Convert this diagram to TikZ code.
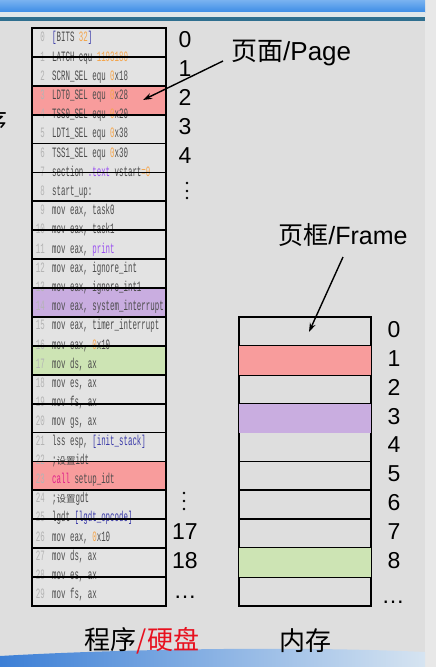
\documentclass[tikz,border=0pt]{standalone}
\usepackage{fontspec}
\setmainfont{Liberation Sans}
\newfontfamily\cjk{Noto Sans CJK SC}
\newfontfamily\codefont[FakeStretch=0.52]{Liberation Mono}
\newfontfamily\codecjk{Noto Sans CJK SC}
\usetikzlibrary{arrows.meta}
\definecolor{bgc}{HTML}{DEDEDE}
\definecolor{panelc}{HTML}{E3E3E3}
\definecolor{stripc}{HTML}{E8E8E8}
\definecolor{lightband}{HTML}{DFE6EA}
\definecolor{topblue}{HTML}{3D8DE6}
\definecolor{toplight}{HTML}{79B2F0}
\definecolor{tealc}{HTML}{2F6F8F}
\definecolor{wavedark}{HTML}{3C7FD6}
\definecolor{wavelight}{HTML}{D6E4F1}
\definecolor{redc}{HTML}{F89C9C}
\definecolor{purc}{HTML}{C9ADE0}
\definecolor{grnc}{HTML}{CDE4B4}
\definecolor{codegray}{HTML}{4C4C4C}
\definecolor{numgray}{HTML}{B4B4B4}
\definecolor{cnum}{HTML}{F4A64E}
\definecolor{cpur}{HTML}{9A50F0}
\definecolor{cbrk}{HTML}{3A3AA8}
\definecolor{ckey}{HTML}{E0208A}
\definecolor{labred}{HTML}{E8101E}
\newcommand\cN[1]{\textcolor{cnum}{#1}}
\newcommand\cP[1]{\textcolor{cpur}{#1}}
\newcommand\cB[1]{\textcolor{cbrk}{#1}}
\newcommand\cK[1]{\textcolor{ckey}{#1}}
\newcommand\zh[1]{{\codecjk\fontsize{9.5}{9.5}\selectfont #1}}
\begin{document}
\begin{tikzpicture}[x=1pt,y=-1pt,
  codeline/.style={anchor=base west,inner sep=0pt,text=codegray,font=\codefont\fontsize{14.3}{14.3}\selectfont},
  lnum/.style={anchor=base east,inner sep=0pt,text=numgray,font=\codefont\fontsize{14.3}{14.3}\selectfont},
  idx/.style={inner sep=0pt,font=\fontsize{23}{23}\selectfont},
  cell/.style={draw=black,line width=1.8pt,minimum width=134pt,minimum height=28.9pt,anchor=north west,inner sep=0pt},
  mcell/.style={draw=black,line width=1.8pt,minimum width=132pt,minimum height=28.9pt,anchor=north west,inner sep=0pt},
  hl/.style={fill=#1,minimum width=134pt,minimum height=28.9pt,anchor=north west,inner sep=0pt},
  lab/.style={inner sep=0pt,font=\fontsize{25}{25}\selectfont},
  arr/.style={line width=1.4pt,-{Stealth[length=9pt,width=6pt]}}]
\useasboundingbox (0,0) rectangle (436,667);
% background
\fill[bgc] (0,0) rectangle (436,667);
\fill[stripc] (425,0) rectangle (436,667);
\shade[top color=toplight,bottom color=topblue] (0,0) rectangle (425,12);
\fill[lightband] (0,12) rectangle (425,17);
\fill[tealc] (0,17) rectangle (425,21);
\shade[left color=wavedark,right color=wavelight] (0,667) -- (0,656) .. controls (120,649) and (300,646) .. (425,652) -- (425,667) -- cycle;
% cut-off character at left edge
\node[inner sep=0pt,font=\cjk\fontsize{26}{26}\selectfont] (cut) at (-6,122) {序};
% code panel
\fill[panelc] (31,27) rectangle (165,605);
\node[hl=redc] (h2) at (31,{27+28.9*2}) {};
\node[hl=purc] (h9) at (31,{27+28.9*9}) {};
\node[hl=grnc] (h11) at (31,{27+28.9*11}) {};
\node[hl=redc] (h15) at (31,{27+28.9*15}) {};
% line numbers
\foreach \n in {0,...,29} \node[lnum] (n\n) at (45,{41.8+19.2*\n}) {\n};
% code
\node[codeline] (c0) at (52,{41.8+19.2*0}) {\cB{[}BITS \cN{32}\cB{]}};
\node[codeline] (c1) at (52,{41.8+19.2*1}) {LATCH equ \cN{1193180}};
\node[codeline] (c2) at (52,{41.8+19.2*2}) {SCRN\_SEL equ \cN{0}x18};
\node[codeline] (c3) at (52,{41.8+19.2*3}) {LDT0\_SEL equ \cN{0}x28};
\node[codeline] (c4) at (52,{41.8+19.2*4}) {TSS0\_SEL equ \cN{0}x20};
\node[codeline] (c5) at (52,{41.8+19.2*5}) {LDT1\_SEL equ \cN{0}x38};
\node[codeline] (c6) at (52,{41.8+19.2*6}) {TSS1\_SEL equ \cN{0}x30};
\node[codeline] (c7) at (52,{41.8+19.2*7}) {section \cP{.text} vstart\cN{=0}};
\node[codeline] (c8) at (52,{41.8+19.2*8}) {start\_up:};
\node[codeline] (c9) at (52,{41.8+19.2*9}) {mov eax, task0};
\node[codeline] (c10) at (52,{41.8+19.2*10}) {mov eax, task1};
\node[codeline] (c11) at (52,{41.8+19.2*11}) {mov eax, \cP{print}};
\node[codeline] (c12) at (52,{41.8+19.2*12}) {mov eax, ignore\_int};
\node[codeline] (c13) at (52,{41.8+19.2*13}) {mov eax, ignore\_int1};
\node[codeline] (c14) at (52,{41.8+19.2*14}) {mov eax, system\_interrupt};
\node[codeline] (c15) at (52,{41.8+19.2*15}) {mov eax, timer\_interrupt};
\node[codeline] (c16) at (52,{41.8+19.2*16}) {mov eax, \cN{0}x10};
\node[codeline] (c17) at (52,{41.8+19.2*17}) {mov ds, ax};
\node[codeline] (c18) at (52,{41.8+19.2*18}) {mov es, ax};
\node[codeline] (c19) at (52,{41.8+19.2*19}) {mov fs, ax};
\node[codeline] (c20) at (52,{41.8+19.2*20}) {mov gs, ax};
\node[codeline] (c21) at (52,{41.8+19.2*21}) {lss esp, \cB{[init\_stack]}};
\node[codeline] (c22) at (52,{41.8+19.2*22}) {;\zh{设置}idt};
\node[codeline] (c23) at (52,{41.8+19.2*23}) {\cK{call} setup\_idt};
\node[codeline] (c24) at (52,{41.8+19.2*24}) {;\zh{设置}gdt};
\node[codeline] (c25) at (52,{41.8+19.2*25}) {lgdt \cB{[lgdt\_opcode]}};
\node[codeline] (c26) at (52,{41.8+19.2*26}) {mov eax, \cN{0}x10};
\node[codeline] (c27) at (52,{41.8+19.2*27}) {mov ds, ax};
\node[codeline] (c28) at (52,{41.8+19.2*28}) {mov es, ax};
\node[codeline] (c29) at (52,{41.8+19.2*29}) {mov fs, ax};
% page cells
\foreach \i in {0,...,19} \node[cell] (p\i) at (31,{27+28.9*\i}) {};
% page indices
\node[idx] (i0) at (185,{27+28.9*0.5-2}) {0};
\node[idx] (i1) at (185,{27+28.9*1.5-2}) {1};
\node[idx] (i2) at (185,{27+28.9*2.5-2}) {2};
\node[idx] (i3) at (185,{27+28.9*3.5-2}) {3};
\node[idx] (i4) at (185,{27+28.9*4.5-1}) {4};
\foreach \y [count=\k] in {183,191,198} \fill (187,\y) circle (1.3pt) coordinate (da\k);
\foreach \y [count=\k] in {493,501,509} \fill (184,\y) circle (1.3pt) coordinate (db\k);
\node[idx] (i17) at (185,{27+28.9*17.5-1}) {17};
\node[idx] (i18) at (185,{27+28.9*18.5-1}) {18};
\node[idx] (i19) at (185,597) {\dots};
% memory frames
\foreach \i in {0,...,9} \node[mcell] (f\i) at (238,{316+28.9*\i}) {};
\fill[redc] ([shift={(0.9pt,-0.9pt)}]f1.north west) rectangle ([shift={(-0.9pt,0.9pt)}]f1.south east);
\fill[purc] ([shift={(0.9pt,-0.9pt)}]f3.north west) rectangle ([shift={(-0.9pt,0.9pt)}]f3.south east);
\fill[grnc] ([shift={(0.9pt,-0.9pt)}]f8.north west) rectangle ([shift={(-0.9pt,0.9pt)}]f8.south east);
\foreach \i in {0,...,8} \node[idx] (m\i) at (394,{316+28.9*(\i+0.5)-1}) {\i};
\node[idx] (m9) at (393,602) {\dots};
% labels
\node[lab,anchor=west,font=\fontsize{26}{26}\selectfont] (pagelbl) at (231,53) {{\cjk 页面}/Page};
\node[lab] (framelbl) at (343,235) {{\cjk 页框}/Frame};
\node[lab,font=\cjk\fontsize{26}{26}\selectfont] (disklbl) at (142,641) {程序\textcolor{labred}{/硬盘}};
\node[lab,font=\cjk\fontsize{26}{26}\selectfont] (memlbl) at (305,641) {内存};
% arrows
\coordinate (pagefrom) at (223,61);
\coordinate (pagetip) at (143,100);
\coordinate (framefrom) at (343,257);
\coordinate (frametip) at (309,332);
\draw[arr] (pagefrom) -- (pagetip);
\draw[arr] (framefrom) -- (frametip);
\end{tikzpicture}
\end{document}
